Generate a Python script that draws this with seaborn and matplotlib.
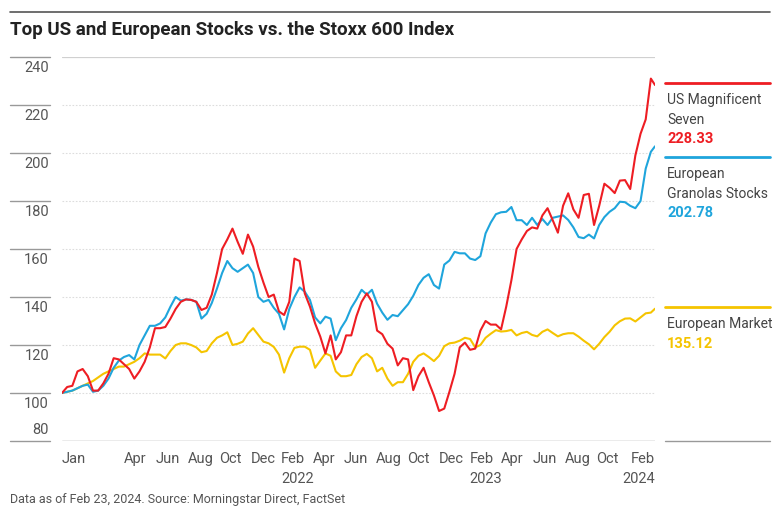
import pandas as pd
import numpy as np
import seaborn as sns
import matplotlib.pyplot as plt
import matplotlib.dates as mdates

# index values (start = 100), read every 10 days from Jan 1 2021, last point Feb 23 2024
start_date = "2021-01-01"
end_date = "2024-02-23"

us_mag7 = [100, 102.5, 103, 109, 110, 107, 101, 101, 104, 108,
           114.5, 114, 112, 110, 106, 109, 113, 119, 127, 127,
           127.5, 131, 135, 138, 139, 138.8, 138, 134.6, 135.5, 141,
           150, 160, 164, 168.5, 163, 158, 166, 161, 152.6, 146,
           140, 141, 134, 132.5, 138, 156, 155, 141.5, 136, 129,
           123.5, 116.5, 124, 114, 117, 124, 124, 132, 138, 141.5,
           138, 126, 124.5, 120.5, 118.5, 111.5, 114.5, 114, 101.2, 107,
           110.5, 104.5, 99, 92.5, 93.5, 100.5, 108, 119, 121, 118,
           118.5, 126, 130, 128.5, 128.5, 126.5, 136, 147, 160, 164,
           167.5, 169, 168.5, 174, 177, 172, 166.8, 178, 183.2, 176.5,
           173, 182.5, 183, 170, 178, 187.2, 185.5, 183.3, 188.5, 188.7,
           185, 199, 208, 214, 231, 228.33]

eu_granolas = [100, 100.5, 101, 102, 103, 103.5, 100.5, 101, 103, 106,
               110.5, 113.5, 115, 115.8, 114, 120, 124, 128, 128, 129,
               131.5, 136, 140, 138.5, 139, 138.8, 138, 131, 133, 137.5,
               143.5, 150, 155, 152, 150.5, 152, 153.5, 150, 140, 138,
               138.8, 135.5, 133, 126.5, 135, 140, 144, 142.2, 138.8, 131.5,
               129, 131.8, 131, 122, 127, 130.4, 135.5, 139, 143, 141,
               143, 137.2, 133.5, 130.5, 132.5, 132, 134.5, 137, 140.5, 145,
               148, 149.5, 145, 143.5, 153.5, 155.2, 158.8, 158.2, 158.2, 156,
               155.4, 157, 166.5, 171, 174.5, 175.3, 175.5, 177.5, 172, 172,
               170, 173, 170, 172.5, 170, 173, 173.5, 174, 172.1, 169,
               165, 164.5, 166, 164.4, 170, 173.3, 175.5, 177, 179.7, 179.5,
               178, 177, 180, 193.5, 200.5, 202.78]

eu_market = [100, 100.5, 101, 102, 103, 104, 105, 106.5, 108, 109,
             110, 111, 111, 112, 113, 114.5, 116.5, 116, 116, 116,
             114.4, 117.5, 120, 120.7, 120.7, 120, 119, 117, 117.5, 120.7,
             123, 124, 125.3, 120, 120.5, 121.4, 124.8, 127, 124.2, 121.4,
             120.7, 119.2, 116, 108.5, 114.5, 118.8, 119.3, 119.3, 118, 110.5,
             113.5, 116.5, 115.5, 109, 107, 107, 107.5, 112, 115, 116.3,
             114.5, 109, 110.5, 106, 103, 104.5, 104.5, 108, 113, 115.5,
             116.5, 115, 113.3, 115.5, 119.5, 120.7, 121, 121.8, 123, 122.5,
             119, 120, 123, 124.7, 126.2, 125.6, 125.8, 126.3, 124, 125,
             125.5, 124.2, 123.6, 125.5, 126.5, 125, 123.6, 124.5, 124.9, 124.9,
             123.5, 121.8, 120.3, 118.2, 120.5, 123.3, 125.5, 128.2, 129.9, 131,
             131.1, 129.8, 131.5, 133.2, 133.5, 135.12]

series_names = ["European Market", "European Granolas Stocks", "US Magnificent Seven"]
colors = {"US Magnificent Seven": "#ee1d23",
          "European Granolas Stocks": "#1fa5dc",
          "European Market": "#f5c400"}

month_ticks = ["2021-01", "2021-04", "2021-06", "2021-08", "2021-10", "2021-12",
               "2022-02", "2022-04", "2022-06", "2022-08", "2022-10", "2022-12",
               "2023-02", "2023-04", "2023-06", "2023-08", "2023-10", "2024-02"]
month_labels = ["Jan", "Apr", "Jun", "Aug", "Oct", "Dec",
                "Feb", "Apr", "Jun", "Aug", "Oct", "Dec",
                "Feb", "Apr", "Jun", "Aug", "Oct", "Feb"]
year_ticks = ["2022-02", "2023-02", "2024-02"]
year_labels = ["2022", "2023", "2024"]
y_ticks = [80, 100, 120, 140, 160, 180, 200, 220, 240]

dates = list(pd.date_range(start_date, periods=len(us_mag7) - 1, freq="10D")) + [pd.Timestamp(end_date)]
df = pd.DataFrame({"date": dates * 3,
                   "value": eu_market + eu_granolas + us_mag7,
                   "series": np.repeat(series_names, len(dates))})

sns.set_style("white")
plt.rcParams['font.family'] = ['Roboto', 'DejaVu Sans']

W, H = 780, 523
fig = plt.figure(figsize=(W / 100, H / 100), dpi=100)
ax = fig.add_axes([62 / W, 1 - 441 / H, 593 / W, 384 / H])

sns.lineplot(data=df, x="date", y="value", hue="series", palette=colors,
             hue_order=series_names, linewidth=1.5, legend=False, ax=ax)

x0, x1 = pd.Timestamp(start_date), pd.Timestamp(end_date)
ax.set_xlim(x0, x1)
ax.set_ylim(80, 240)
ax.set_xlabel("")
ax.set_ylabel("")
ax.set_xticks([])
ax.set_yticks([])
for s in ax.spines.values():
    s.set_visible(False)

# gridlines
for v in y_ticks[1:-1]:
    ax.axhline(v, color="#dddddd", lw=0.8, ls=(0, (1.5, 1.5)), zorder=0)
ax.axhline(240, color="#d0d0d0", lw=0.9, zorder=0)
ax.axhline(80, color="#999999", lw=1.0, zorder=0)

# y labels on the left with short rules
ytr = ax.get_yaxis_transform()
for v in y_ticks:
    ax.plot([-0.088, -0.02], [v, v], transform=ytr, color="#999999", lw=1.0, clip_on=False)
    if v == 80:
        ax.annotate(str(v), (-0.022, v), xycoords=ytr, xytext=(0, 3), textcoords="offset points",
                    ha="right", va="bottom", fontsize=10.5, color="#555555")
    else:
        ax.annotate(str(v), (-0.022, v), xycoords=ytr, xytext=(0, -3), textcoords="offset points",
                    ha="right", va="top", fontsize=10.5, color="#555555")

# x labels (each month label sits just after its month)
xtr = ax.get_xaxis_transform()
for t, lab in zip(month_ticks, month_labels):
    d = pd.Timestamp(t)
    if t == "2021-01":
        pos, ha = x0, "left"
    elif t == "2024-02":
        pos, ha = x1, "right"
    else:
        pos, ha = d + pd.DateOffset(months=1), "left"
    ax.annotate(lab, (mdates.date2num(pos), 0), xycoords=xtr, xytext=(0, -8), textcoords="offset points",
                ha=ha, va="top", fontsize=10.5, color="#555555")
for t, lab in zip(year_ticks, year_labels):
    d = pd.Timestamp(t)
    if t == "2024-02":
        pos, ha = x1, "right"
    else:
        pos, ha = d + pd.DateOffset(months=1), "left"
    ax.annotate(lab, (mdates.date2num(pos), 0), xycoords=xtr, xytext=(0, -22), textcoords="offset points",
                ha=ha, va="top", fontsize=10.5, color="#555555")


def fx(px):
    return px / W


def fy(py):
    return 1 - py / H


# top rule, title, footer
fig.add_artist(plt.Line2D([fx(10), fx(770)], [fy(12), fy(12)], color="#555555", lw=1.2))
fig.text(fx(10), fy(30), "Top US and European Stocks vs. the Stoxx 600 Index",
         fontsize=13.5, fontweight="bold", color="#222222", va="center")
fig.text(fx(10), fy(500), "Data as of Feb 23, 2024. Source: Morningstar Direct, FactSet",
         fontsize=9, color="#555555", va="center")

# right side labels
fig.add_artist(plt.Line2D([fx(665), fx(770)], [fy(441), fy(441)], color="#999999", lw=1.0))
side = [("US Magnificent Seven", 83, ["US Magnificent", "Seven"], us_mag7[-1]),
        ("European Granolas Stocks", 157, ["European", "Granolas Stocks"], eu_granolas[-1]),
        ("European Market", 307, ["European Market"], eu_market[-1])]
for name, ly, lines, last in side:
    c = colors[name]
    fig.add_artist(plt.Line2D([fx(665), fx(770)], [fy(ly), fy(ly)], color=c, lw=2))
    yy = ly + 17
    for ln in lines:
        fig.text(fx(667), fy(yy), ln, fontsize=10, color="#444444", va="center")
        yy += 19.5
    fig.text(fx(667), fy(yy), f"{last:.2f}", fontsize=10.5, fontweight="bold", color=c, va="center")

fig.savefig("out.png", dpi=100)
